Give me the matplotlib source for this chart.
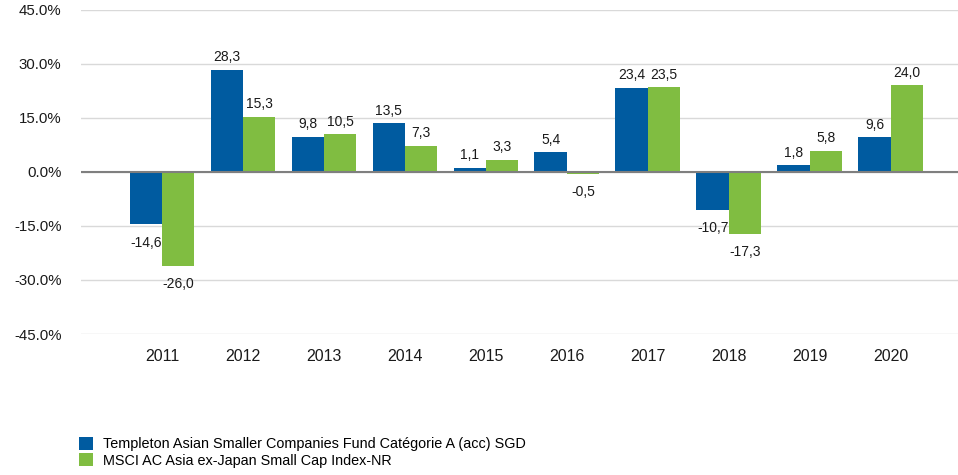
import numpy as np
import matplotlib
matplotlib.use("Agg")
import matplotlib.pyplot as plt

plt.rcParams['font.family'] = ['Liberation Sans', 'DejaVu Sans']

years = ['2011', '2012', '2013', '2014', '2015', '2016', '2017', '2018', '2019', '2020']
fund = [-14.6, 28.3, 9.8, 13.5, 1.1, 5.4, 23.4, -10.7, 1.8, 9.6]
index = [-26.0, 15.3, 10.5, 7.3, 3.3, -0.5, 23.5, -17.3, 5.8, 24.0]
fund_name = 'Templeton Asian Smaller Companies Fund Catégorie A (acc) SGD'
index_name = 'MSCI AC Asia ex-Japan Small Cap Index-NR'

blue = '#005BA0'
green = '#80BD41'

fig = plt.figure(figsize=(9.58, 4.75), dpi=100)
ax = fig.add_axes([81 / 958, 1 - 334 / 475, 1 - 81 / 958, (334 - 9.7) / 475])

x = np.arange(len(years))
w = 0.4
b1 = ax.bar(x - w / 2, fund, w, color=blue, label=fund_name, zorder=3)
b2 = ax.bar(x + w / 2, index, w, color=green, label=index_name, zorder=3)

def fmt(v):
    return f'{v:.1f}'.replace('.', ',')

for bars, vals in ((b1, fund), (b2, index)):
    for r, v in zip(bars, vals):
        cx = r.get_x() + r.get_width() / 2
        dy = 9 if v >= 0 else -13
        ax.annotate(fmt(v), (cx, v), xytext=(0, dy), textcoords='offset points',
                    ha='center', va='center', fontsize=10, color='#1a1a1a')

ax.set_ylim(-45, 45)
ax.set_xlim(-1.0, 9.83)
ax.set_yticks(np.arange(-45, 46, 15))
ax.set_yticklabels([f'{t:.1f}%' for t in np.arange(-45, 46, 15)])
ax.set_xticks(x)
ax.set_xticklabels(years)
ax.tick_params(length=0, labelsize=11.5, colors='#1a1a1a')
ax.tick_params(axis='y', pad=14, labelsize=10.8)
ax.tick_params(axis='x', pad=11)
ax.grid(axis='y', color='#d9d9d9', linewidth=1, zorder=0)
ax.axhline(0, color='#7f7f7f', linewidth=1.5, zorder=4)
for s in ax.spines.values():
    s.set_visible(False)

fig.legend(handles=[b1, b2], loc='upper left', bbox_to_anchor=(73 / 958, 1 - 431 / 475),
           frameon=False, fontsize=10.4, handlelength=1.0, handleheight=1.0,
           handletextpad=0.7, labelspacing=0.15, borderaxespad=0)

fig.savefig('out.png', dpi=100)
